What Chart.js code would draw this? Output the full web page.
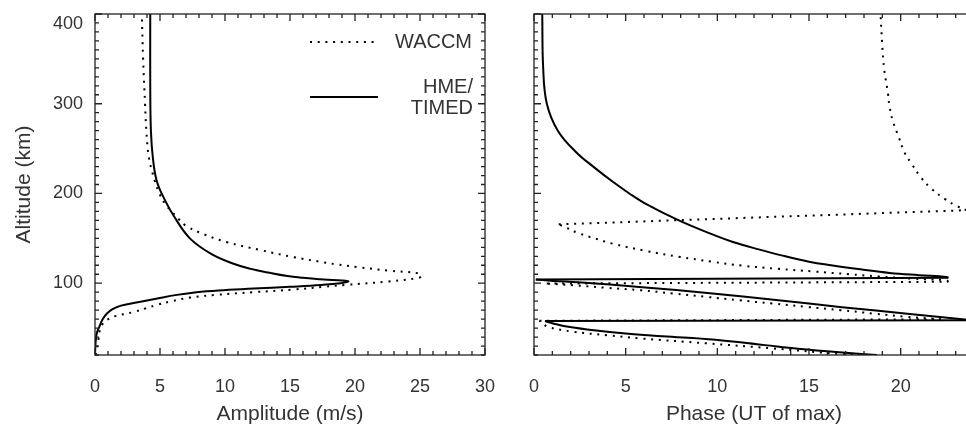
<!DOCTYPE html>
<html>
<head>
<meta charset="utf-8">
<script src="https://cdn.jsdelivr.net/npm/chart.js@4"></script>
<style>
  html, body { margin: 0; padding: 0; background: #fff; overflow: hidden; }
  #wrap { position: relative; width: 966px; height: 427px; overflow: hidden; }
  canvas { position: absolute; top: 0; }
  #ampChart { left: 0; }
  #phaseChart { left: 480px; }
</style>
</head>
<body>
<div id="wrap">
  <canvas id="ampChart" width="500" height="427"></canvas>
  <canvas id="phaseChart" width="510" height="427"></canvas>
</div>
<script>
// Data

// Amplitude profiles (altitude in km, amplitude in m/s)
const hmeAmpAlt = [20, 35, 45, 52, 60, 66, 71, 75, 79, 83, 87, 90, 92, 94, 96, 98, 100, 102, 103, 104,
                   106, 108, 112, 116, 122, 133, 150, 174, 192, 214, 240, 270, 320, 400];
const hmeAmp    = [0.0, 0.05, 0.15, 0.35, 0.6, 0.9, 1.35, 2.0, 3.4, 4.8, 6.3, 7.8, 9.5, 12.2, 15.0, 17.4, 18.9, 19.5, 19.0, 17.6,
                   16.0, 14.8, 13.3, 12.0, 10.6, 8.9, 7.3, 6.1, 5.4, 4.75, 4.45, 4.3, 4.25, 4.25];

const waccmAmpAlt = [20, 26, 37, 48, 55, 59, 63, 68, 72, 76, 80, 84, 87, 90, 93, 96, 98, 102, 106, 108,
                     111, 114, 118, 121, 124, 129, 137, 146, 155, 164, 172, 180, 188, 200, 214, 240, 270, 300, 350, 400];
const waccmAmp    = [0.05, 0.13, 0.26, 0.38, 0.6, 0.9, 1.5, 3.0, 3.9, 4.8, 5.9, 7.3, 9.3, 12.2, 15.3, 17.6, 19.2, 22.6, 24.9, 25.1,
                     24.9, 22.6, 20.2, 18.6, 17.3, 15.3, 12.7, 10.1, 8.3, 7.0, 6.4, 5.9, 5.4, 4.95, 4.6, 4.15, 3.95, 3.85, 3.7, 3.6];

// Phase profiles (altitude in km, UT hour of max) - values wrap at 24 h
const hmePhaseAlt = [20, 22.5, 27, 31, 37, 41, 44, 48.5, 52, 55.2, 57.8, 58.7, 59.6, 65.8, 73.3, 81.4, 88.8, 95.6, 101, 102.6,
                     104.2, 106, 107, 109, 111.5, 115.5, 120, 124, 131, 138, 146, 153, 170, 189, 200, 213, 228, 246, 270, 300,
                     340, 400];
const hmePhase    = [18.7, 17.0, 14.4, 12.6, 9.9, 7.0, 5.0, 2.9, 1.7, 1.05, 0.6, 24.0, 23.5, 20.5, 16.8, 13.2, 9.6, 5.9, 2.4, 1.05,
                     0.1, 22.6, 22.5, 21.0, 19.4, 17.8, 16.2, 15.0, 13.5, 12.2, 10.85, 9.9, 7.9, 6.05, 5.2, 4.3, 3.35, 2.3, 1.3, 0.7,
                     0.5, 0.45];

const waccmPhaseAlt = [20, 21.1, 27.4, 33, 38.5, 42, 46, 51, 54.5, 58.1, 59.8, 62.6, 66, 70, 73.5, 77.4, 81, 84.8, 88.5, 92.2,
                       95, 97.8, 99.6, 101.6, 103.3, 105, 107.5, 110, 113, 116, 119.5, 124, 129.5, 136, 144, 150, 156, 162, 165.6, 181.4,
                       186.7, 194, 205, 218, 233, 246, 262.6, 279, 296, 312.6, 338.5, 364, 400];
const waccmPhase    = [17.8, 16.7, 13.0, 9.4, 5.8, 4.0, 2.1, 0.8, 0.5, 0.3, 22.2, 20.3, 18.6, 16.7, 14.9, 13.0, 11.2, 9.4, 7.6, 5.8,
                       3.9, 2.1, 0.7, 22.6, 22.5, 20.7, 18.8, 17.2, 15.3, 13.3, 11.4, 9.7, 7.9, 6.1, 4.3, 3.3, 2.4, 1.75, 1.35, 23.6,
                       23.0, 22.4, 21.7, 21.1, 20.6, 20.2, 19.9, 19.6, 19.4, 19.3, 19.1, 19.0, 18.9];

// Tick labels
const altTicks   = [100, 200, 300, 400];
const ampTicks   = [0, 5, 10, 15, 20, 25, 30];
const phaseTicks = [0, 5, 10, 15, 20];

const hmeName   = 'HME/\nTIMED';
const waccmName = 'WACCM';

// Styles

const FONT = '"Liberation Sans", Arial, Helvetica, sans-serif';
const TEXT = '#333';
const DOTS = [2, 5.7];

Chart.defaults.font.family = FONT;
Chart.defaults.color = TEXT;

const pts = (xs, ys) => xs.map((v, i) => ({ x: v, y: ys[i] }));

const lineStyle = (label, data, dashed, tension) => ({
  label, data, tension,
  borderColor: '#000', borderWidth: 2, pointRadius: 0,
  borderDash: dashed ? DOTS : [], borderCapStyle: 'butt'
});

// Split a phase profile where it wraps through 24 h: smooth branches,
// straight connectors across the wrap
function phaseDatasets(label, xs, ys, dashed) {
  const points = pts(xs, ys);
  const sets = [];
  let branch = [points[0]];
  for (let i = 1; i < points.length; i++) {
    if (Math.abs(points[i].x - points[i - 1].x) > 12) {
      sets.push(lineStyle(label, branch, dashed, 0.4));
      sets.push(lineStyle(label, [points[i - 1], points[i]], dashed, 0));
      branch = [];
    }
    branch.push(points[i]);
  }
  sets.push(lineStyle(label, branch, dashed, 0.4));
  return sets;
}

// Frame with inward ticks on all four sides (IDL style)
const frameTicks = {
  id: 'frameTicks',
  afterDatasetsDraw(chart, args, opts) {
    const { ctx, chartArea: a, scales: { x, y } } = chart;
    ctx.save();
    ctx.strokeStyle = '#222';
    ctx.lineWidth = 1.3;
    ctx.strokeRect(a.left, a.top, a.right - a.left, a.bottom - a.top);
    ctx.beginPath();
    const nx = Math.round((x.max - x.min) / opts.xMinor);
    for (let i = 0; i <= nx; i++) {
      const v = x.min + i * opts.xMinor;
      const px = x.getPixelForValue(v);
      const len = Math.abs(v % opts.xMajor) < 1e-6 ? 7 : 4;
      ctx.moveTo(px, a.bottom); ctx.lineTo(px, a.bottom - len);
      ctx.moveTo(px, a.top);    ctx.lineTo(px, a.top + len);
    }
    const ny = Math.round((y.max - y.min) / opts.yMinor);
    for (let i = 0; i <= ny; i++) {
      const v = y.min + i * opts.yMinor;
      const py = y.getPixelForValue(v);
      const len = Math.abs(v % opts.yMajor) < 1e-6 ? 7 : 4;
      ctx.moveTo(a.left, py);  ctx.lineTo(a.left + len, py);
      ctx.moveTo(a.right, py); ctx.lineTo(a.right - len, py);
    }
    ctx.stroke();
    ctx.restore();
  }
};

// Line key in the upper right of the amplitude panel
const lineKey = {
  id: 'lineKey',
  afterDraw(chart) {
    const { ctx } = chart;
    ctx.save();
    ctx.strokeStyle = '#000';
    ctx.lineWidth = 2;
    ctx.setLineDash(DOTS);
    ctx.beginPath(); ctx.moveTo(310, 42); ctx.lineTo(374, 42); ctx.stroke();
    ctx.setLineDash([]);
    ctx.beginPath(); ctx.moveTo(310, 97); ctx.lineTo(378, 97); ctx.stroke();

    ctx.font = '20px ' + FONT;
    ctx.fillStyle = TEXT;
    ctx.textBaseline = 'middle';
    ctx.textAlign = 'left';
    ctx.fillText(waccmName, 395, 42);
    ctx.textAlign = 'right';
    hmeName.split('\n').forEach((line, i) => ctx.fillText(line, 473, 87 + i * 21));
    ctx.restore();
  }
};

const setTicks = list => scale => { scale.ticks = list.map(v => ({ value: v })); };

const xAxis = (max, ticks, title) => ({
  type: 'linear', min: 0, max,
  grid: { display: false, drawTicks: false }, border: { display: false },
  afterBuildTicks: setTicks(ticks),
  ticks: { padding: 22, color: TEXT, font: { size: 18, lineHeight: 1.1 } },
  title: { display: true, text: title, color: TEXT, font: { size: 21 }, padding: 0 },
  afterFit: s => { s.height = 72; s.paddingLeft = 0; s.paddingRight = 0; }
});

const altAxis = (width, labels) => ({
  type: 'linear', min: 20, max: 400,
  grid: { display: false, drawTicks: false }, border: { display: false },
  afterBuildTicks: setTicks(altTicks),
  ticks: {
    display: labels, padding: 12, color: TEXT, font: { size: 18, lineHeight: 1.1 },
    // top label is pushed down a line so it sits under the frame
    callback: (v, i, all) => i === all.length - 1 ? ['', String(v)] : String(v)
  },
  title: { display: labels, text: 'Altitude (km)', color: TEXT, font: { size: 21 }, padding: { top: 12, bottom: 0 } },
  afterFit: s => { s.width = width; s.paddingTop = 0; s.paddingBottom = 0; }
});

const baseOptions = (rightPad, xScale, yScale) => ({
  indexAxis: 'y',
  responsive: false, animation: false, devicePixelRatio: 1,
  layout: { padding: { top: 14, right: rightPad, left: 0, bottom: 0 }, autoPadding: false },
  plugins: {
    legend: { display: false }, tooltip: { enabled: false },
    frameTicks: { xMinor: 1, xMajor: 5, yMinor: 10, yMajor: 100 }
  },
  scales: { x: xScale, y: yScale }
});

// Amplitude panel

new Chart(document.getElementById('ampChart'), {
  type: 'line',
  data: {
    datasets: [
      lineStyle(hmeName, pts(hmeAmp, hmeAmpAlt), false, 0.4),
      lineStyle(waccmName, pts(waccmAmp, waccmAmpAlt), true, 0.4)
    ]
  },
  options: baseOptions(15, xAxis(30, ampTicks, 'Amplitude (m/s)'), altAxis(95, true)),
  plugins: [frameTicks, lineKey]
});

// Phase panel

new Chart(document.getElementById('phaseChart'), {
  type: 'line',
  data: {
    datasets: [
      ...phaseDatasets(hmeName, hmePhase, hmePhaseAlt, false),
      ...phaseDatasets(waccmName, waccmPhase, waccmPhaseAlt, true)
    ]
  },
  options: baseOptions(16, xAxis(24, phaseTicks, 'Phase (UT of max)'), altAxis(54, false)),
  plugins: [frameTicks]
});
</script>
</body>
</html>
